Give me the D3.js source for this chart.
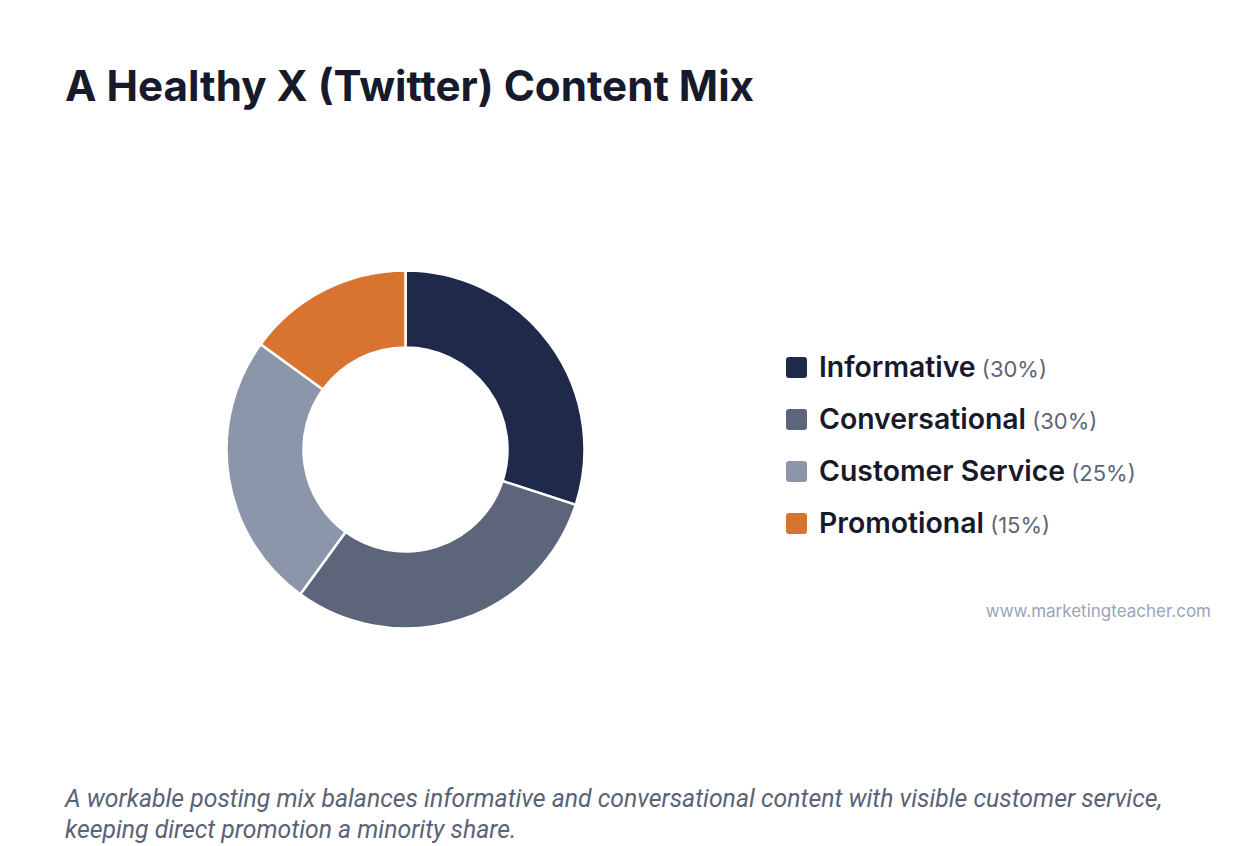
<!DOCTYPE html>
<html><head><meta charset="utf-8">
<script src="https://cdn.jsdelivr.net/npm/d3@7"></script>
<style>
html,body{margin:0;padding:0;background:#fff;}
svg{display:block;}
</style></head>
<body>
<svg id="chart" width="1240" height="846"></svg>
<script>
const categories = ["Informative", "Conversational", "Customer Service", "Promotional"];
const values = [30, 30, 25, 15];
const colors = ["#1f2a4a", "#5c6579", "#8b96ab", "#d97330"];
const titleText = "A Healthy X (Twitter) Content Mix";
const captionLines = [
  "A workable posting mix balances informative and conversational content with visible customer service,",
  "keeping direct promotion a minority share."
];
const sourceText = "www.marketingteacher.com";

const svg = d3.select("#chart");

svg.append("text").attr("x", 65).attr("y", 101)
  .attr("font-family", "Inter, 'Noto Sans', sans-serif").attr("font-weight", 700)
  .attr("font-size", 42.2).attr("fill", "#161a2b")
  .text(titleText);

const data = categories.map((c, i) => ({cat: c, value: values[i], color: colors[i]}));
const pie = d3.pie().value(d => d.value).sort(null);
const arc = d3.arc().innerRadius(102).outerRadius(179);
const g = svg.append("g").attr("transform", "translate(405.5,449.5)");
g.selectAll("path").data(pie(data)).join("path")
  .attr("d", arc).attr("fill", d => d.data.color)
  .attr("stroke", "#fff").attr("stroke-width", 2.5);

const legend = svg.append("g");
const rows = legend.selectAll("g").data(data).join("g")
  .attr("transform", (d, i) => `translate(786,${357 + i * 52})`);
rows.append("rect").attr("width", 21).attr("height", 21).attr("rx", 3).attr("fill", d => d.color);
const t = rows.append("text").attr("x", 33).attr("y", 20)
  .attr("font-family", "Inter, 'Noto Sans', sans-serif");
t.append("tspan").attr("font-weight", 600).attr("font-size", 28.4).attr("fill", "#161a2b").text(d => d.cat);
t.append("tspan").attr("font-weight", 400).attr("font-size", 22).attr("fill", "#5e6577").text(d => ` (${d.value}%)`);

svg.append("text").attr("x", 1211).attr("y", 617).attr("text-anchor", "end")
  .attr("font-family", "Inter, 'Noto Sans', sans-serif").attr("font-size", 17).attr("fill", "#9aa3b8")
  .text(sourceText);

svg.selectAll("text.cap").data(captionLines).join("text").attr("class", "cap")
  .attr("x", 65).attr("y", (d, i) => 807 + i * 31)
  .attr("font-family", "Roboto, 'Noto Sans', sans-serif").attr("font-style", "italic")
  .attr("font-size", 24.8).attr("fill", "#5a6275")
  .text(d => d);
</script>
</body></html>
